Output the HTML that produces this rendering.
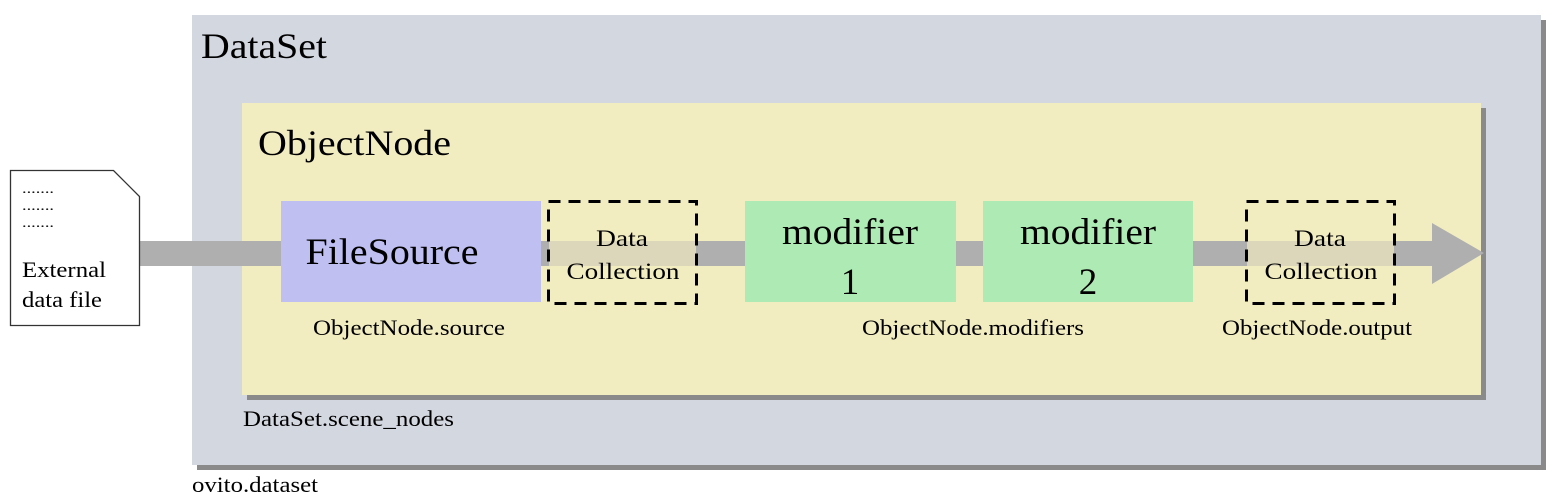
<!DOCTYPE html>
<html><head><meta charset="utf-8"><style>
html,body{margin:0;padding:0;background:#fff;}
svg{display:block;}
svg text{font-family:"Liberation Serif","Times New Roman","DejaVu Serif",serif;fill:#000;}
</style></head><body>
<svg width="1567" height="504" viewBox="0 0 1567 504">
<rect x="197" y="20" width="1349" height="450" fill="#8a8a8a"/>
<rect x="192" y="15" width="1349" height="450" fill="#d3d7e0"/>
<text x="201" y="58" font-size="36" textLength="126" lengthAdjust="spacingAndGlyphs">DataSet</text>
<rect x="247" y="108" width="1239" height="292" fill="#8a8a8a"/>
<rect x="242" y="103" width="1239" height="292" fill="#f2edc1"/>
<text x="258" y="155" font-size="36" textLength="193" lengthAdjust="spacingAndGlyphs">ObjectNode</text>
<rect x="140" y="241" width="1295" height="25" fill="#afafaf"/>
<polygon points="1432,223 1484,253 1432,284" fill="#afafaf"/>
<polygon points="10.5,170.5 113.5,170.5 139.5,196.5 139.5,325.5 10.5,325.5" fill="#fff" stroke="#333" stroke-width="1.3"/>
<text x="22" y="193" font-size="14" textLength="32" lengthAdjust="spacingAndGlyphs">.......</text>
<text x="22" y="210" font-size="14" textLength="32" lengthAdjust="spacingAndGlyphs">.......</text>
<text x="22" y="227" font-size="14" textLength="32" lengthAdjust="spacingAndGlyphs">.......</text>
<text x="22" y="277" font-size="22" textLength="84" lengthAdjust="spacingAndGlyphs">External</text>
<text x="22" y="307" font-size="22" textLength="80" lengthAdjust="spacingAndGlyphs">data file</text>
<rect x="281" y="201" width="260" height="101" fill="#bfbff2"/>
<text x="392" y="264" font-size="37" text-anchor="middle" textLength="173" lengthAdjust="spacingAndGlyphs">FileSource</text>
<rect x="549" y="241" width="147" height="25" fill="#dcd7ba"/>
<rect x="548.5" y="201.5" width="148" height="102" fill="none" stroke="#000" stroke-width="3" stroke-dasharray="12,8"/>
<text x="622" y="246" font-size="23" text-anchor="middle" textLength="52" lengthAdjust="spacingAndGlyphs">Data</text>
<text x="623" y="279" font-size="23" text-anchor="middle" textLength="113" lengthAdjust="spacingAndGlyphs">Collection</text>
<rect x="745" y="201" width="211" height="101" fill="#aeeab4"/>
<text x="850" y="244" font-size="37" text-anchor="middle" textLength="136" lengthAdjust="spacingAndGlyphs">modifier</text>
<text x="850" y="294" font-size="37" text-anchor="middle">1</text>
<rect x="983" y="201" width="210" height="101" fill="#aeeab4"/>
<text x="1088" y="244" font-size="37" text-anchor="middle" textLength="136" lengthAdjust="spacingAndGlyphs">modifier</text>
<text x="1088" y="294" font-size="37" text-anchor="middle">2</text>
<rect x="1247" y="241" width="147" height="25" fill="#dcd7ba"/>
<rect x="1246.5" y="201.5" width="148" height="102" fill="none" stroke="#000" stroke-width="3" stroke-dasharray="12,8"/>
<text x="1320" y="246" font-size="23" text-anchor="middle" textLength="52" lengthAdjust="spacingAndGlyphs">Data</text>
<text x="1321" y="279" font-size="23" text-anchor="middle" textLength="113" lengthAdjust="spacingAndGlyphs">Collection</text>
<text x="313" y="335" font-size="22" textLength="192" lengthAdjust="spacingAndGlyphs">ObjectNode.source</text>
<text x="862" y="335" font-size="22" textLength="222" lengthAdjust="spacingAndGlyphs">ObjectNode.modifiers</text>
<text x="1222" y="335" font-size="22" textLength="190" lengthAdjust="spacingAndGlyphs">ObjectNode.output</text>
<text x="243" y="426" font-size="22" textLength="211" lengthAdjust="spacingAndGlyphs">DataSet.scene_nodes</text>
<text x="192" y="492" font-size="22" textLength="126" lengthAdjust="spacingAndGlyphs">ovito.dataset</text>
</svg>
</body></html>
